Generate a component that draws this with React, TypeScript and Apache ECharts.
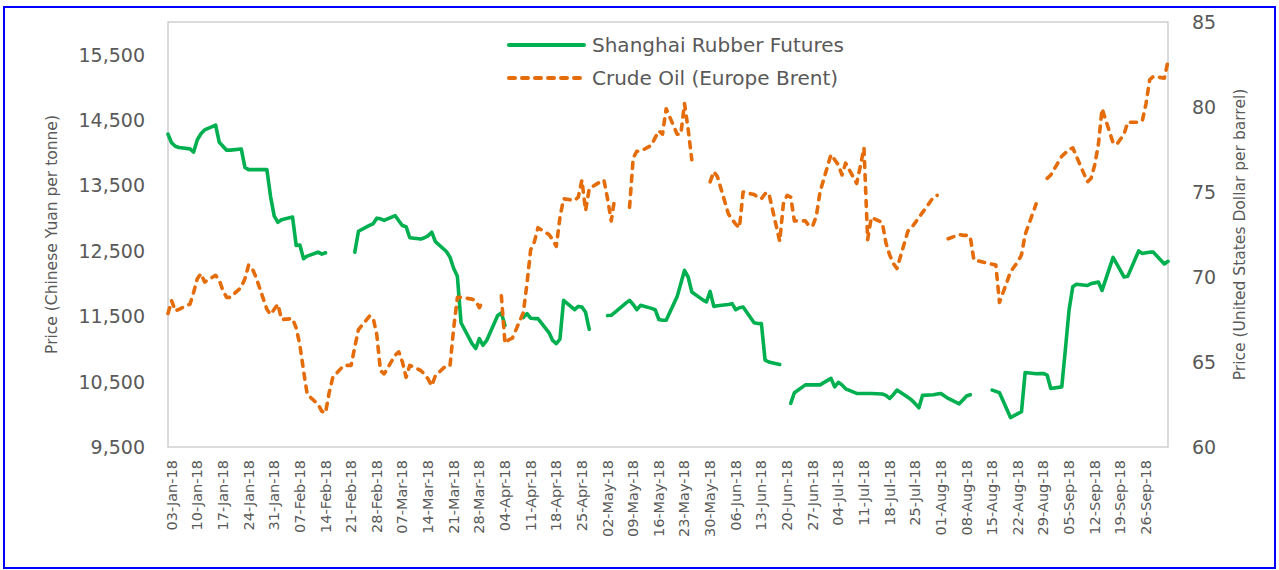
import React, { useEffect, useRef } from 'react';
import * as echarts from 'echarts';

// ---- axis categories: every calendar day of the date axis (02-Jan-18 .. 02-Oct-18)
const MONTHS = ['Jan', 'Feb', 'Mar', 'Apr', 'May', 'Jun', 'Jul', 'Aug', 'Sep', 'Oct', 'Nov', 'Dec'];
const AXIS_START = Date.UTC(2018, 0, 2);
const AXIS_END = Date.UTC(2018, 9, 2);
const DAY_MS = 86400000;

// ---- Shanghai Rubber Futures (CNY / tonne), one value per weekday, null = no quote
const rubberJan = [14286, 14150, 14100, 14080, 14060, 14010, 14200, 14290, 14350, 14424, 14160, 14100, 14040, 14040, 14058, 13777, 13742, 13742, 13742, 13742, 13330, 13030];
const rubberFeb = [12937, 12975, 13018, 12582, 12590, 12380, 12420, 12480, 12450, 12470, null, null, null, null, null, 12480, 12800, 12890, 12913, 13000];
const rubberMar = [12990, 12965, 13040, 12960, 12887, 12870, 12700, 12680, 12700, 12730, 12785, 12640, 12490, 12400, 12230, 12110, 11400, 11080, 11006, 11158, 11056, 11130];
const rubberApr = [11510, 11550, 11360, null, null, 11480, 11540, 11470, 11464, 11464, 11250, 11130, 11082, 11150, 11743, 11600, 11650, 11640, 11560, 11300, null];
const rubberMay = [null, 11510, 11514, 11560, 11700, 11743, 11680, 11600, 11667, 11620, 11600, 11450, 11438, 11438, 11800, 12000, 12200, 12100, 11870, 11750, 11718, 11880, 11650];
const rubberJun = [11660, 11680, 11692, 11600, 11630, 11641, 11400, 11390, 11387, 10830, 10800, 10760, null, null, 10167, 10330, 10450, 10450, 10450, 10450, 10450];
const rubberJul = [10550, 10420, 10490, 10450, 10390, 10319, 10319, 10319, 10319, 10319, 10310, 10290, 10243, 10300, 10370, 10260, 10220, 10160, 10100, 10290, 10300, 10310];
const rubberAug = [10319, 10280, 10243, 10160, 10220, 10280, 10300, null, null, null, 10370, 10350, 10330, 9950, 9980, 10010, 10039, 10640, 10620, 10622, 10624, 10600, 10395];
const rubberSep = [10420, 11000, 11600, 11950, 11990, 11970, 12000, 12010, 12022, 11895, 12400, 12302, 12200, 12100, 12110, 12500, 12460, 12470, 12480, 12480];
const rubberOct = [12300, 12340];

// ---- Crude Oil, Europe Brent (USD / barrel), one value per weekday, null = no quote
const brentJan = [67.85, 68.6, 68.0, 68.1, 68.4, 69.1, 69.9, 70.2, 69.7, 70.1, 69.8, 69.2, 68.8, 68.8, 69.4, 69.9, 70.7, 70.5, 70.0, 68.1, 67.8, 68.1];
const brentFeb = [68.4, 67.5, 67.55, 67.0, 66.0, 64.5, 63.1, 62.5, 62.1, 62.0, 63.2, 64.1, 64.8, 64.8, 64.8, 65.9, 66.9, 67.7, 67.6, 66.6];
const brentMar = [64.5, 64.3, 65.4, 65.6, 65.0, 64.1, 64.8, 64.5, 64.3, 64.0, 63.6, 64.2, 64.8, 64.8, 67.0, 68.8, 68.8, 68.7, 68.6, 68.2, 68.6, null];
const brentApr = [null, 68.9, 66.1, 66.3, 66.4, 67.9, 69.6, 71.6, 72.05, 72.9, 72.5, 72.2, 71.8, 73.5, 74.6, 74.5, 74.7, 75.7, 73.9, 75.2, 75.6];
const brentMay = [75.7, 74.6, 73.3, 74.7, null, 74.1, 77.0, 77.4, 77.4, 77.75, 78.2, 78.6, 78.4, 79.9, 78.4, 78.4, 80.2, 78.7, 76.9, null, null, 75.6, 76.2];
const brentJun = [75.9, 73.7, 73.4, 73.1, 72.9, 75.0, 74.85, 74.7, 74.6, 74.9, 74.95, 72.1, 74.3, 74.8, 74.7, 73.3, 73.3, 73.0, 73.0, 73.6, 75.0];
const brentJul = [77.2, 76.9, 76.6, 76.0, 76.7, 75.5, 76.5, 77.6, 72.2, 73.5, 73.2, 72.0, 71.3, 70.8, 70.5, 72.7, 72.9, 73.2, 73.5, 73.8, 74.7, 74.8];
const brentAug = [null, null, 72.25, 72.5, 72.45, 72.45, 72.4, 71.0, 70.85, 70.8, 70.75, 70.7, 68.5, 70.3, 70.6, 70.9, 71.3, 72.5, 74.3, null, null, 75.8, 76.0];
const brentSep = [77.1, 77.3, 77.5, 77.6, 77.1, 75.6, 75.8, 76.6, 77.8, 79.9, 77.9, 77.8, 78.1, 78.4, 79.1, 79.1, 79.2, 80.2, 81.6, 81.8];
const brentOct = [81.7, 82.7];

// ---- axis settings (values)
const rubberAxis = { min: 9500, max: 16000, interval: 1000 };
const brentAxis = { min: 60, max: 85, interval: 5 };

const SERIES_RUBBER = 'Shanghai Rubber Futures';
const SERIES_BRENT = 'Crude Oil (Europe Brent)';

const pad2 = (n: number) => (n < 10 ? '0' + n : String(n));

function buildCalendar() {
  const labels: string[] = [];
  const weekdayIdx: number[] = [];
  let i = 0;
  for (let t = AXIS_START; t <= AXIS_END; t += DAY_MS, i++) {
    const d = new Date(t);
    labels.push(`${pad2(d.getUTCDate())}-${MONTHS[d.getUTCMonth()]}-18`);
    const dow = d.getUTCDay();
    if (dow !== 0 && dow !== 6) weekdayIdx.push(i);
  }
  return { labels, weekdayIdx };
}

const FONT = '"DejaVu Sans", Verdana, sans-serif';
const TEXT = '#595959';
const GREEN = '#00B050';
const ORANGE = '#E46C0A';

export default function App() {
  const ref = useRef<HTMLDivElement>(null);

  useEffect(() => {
    if (!ref.current) return;
    const chart = echarts.init(ref.current, undefined, { renderer: 'svg' });
    const { labels, weekdayIdx } = buildCalendar();
    const rubber = [...rubberJan, ...rubberFeb, ...rubberMar, ...rubberApr, ...rubberMay, ...rubberJun, ...rubberJul, ...rubberAug, ...rubberSep, ...rubberOct];
    const brent = [...brentJan, ...brentFeb, ...brentMar, ...brentApr, ...brentMay, ...brentJun, ...brentJul, ...brentAug, ...brentSep, ...brentOct];
    const toPairs = (vals: (number | null)[]) =>
      weekdayIdx.map((ci, k) => [ci, vals[k] == null ? '-' : vals[k]]);

    chart.setOption({
      animation: false,
      backgroundColor: '#ffffff',
      textStyle: { fontFamily: FONT },
      grid: {
        left: 168, top: 22, width: 1000, height: 425,
        show: true, borderColor: '#d0d0d0', borderWidth: 1.5, backgroundColor: 'transparent',
      },
      legend: {
        orient: 'vertical',
        left: 507, top: 35, padding: 0,
        itemWidth: 75, itemHeight: 23, itemGap: 13,
        itemStyle: { opacity: 0, borderWidth: 0 },
        lineStyle: { width: 4 },
        textStyle: { fontFamily: FONT, fontSize: 20, color: TEXT, padding: [0, 0, 0, 3] },
        data: [SERIES_RUBBER, SERIES_BRENT],
      },
      xAxis: {
        type: 'category',
        data: labels,
        boundaryGap: false,
        axisLine: { show: false },
        axisTick: { show: false },
        splitLine: { show: false },
        axisLabel: {
          rotate: 90,
          interval: (index: number) => (index - 1) % 7 === 0,
          fontFamily: FONT, fontSize: 14.5, color: TEXT, margin: 13,
        },
      },
      yAxis: [
        {
          type: 'value', position: 'left',
          min: rubberAxis.min, max: rubberAxis.max, interval: rubberAxis.interval,
          axisLine: { show: false }, axisTick: { show: false }, splitLine: { show: false },
          axisLabel: {
            showMaxLabel: false,
            fontFamily: FONT, fontSize: 19, color: TEXT, margin: 23,
            formatter: (v: number) => v.toLocaleString('en-US'),
          },
          name: 'Price (Chinese Yuan per tonne)',
          nameLocation: 'middle', nameRotate: 90, nameGap: 108,
          nameTextStyle: { fontFamily: FONT, fontSize: 15.5, color: TEXT },
        },
        {
          type: 'value', position: 'right',
          min: brentAxis.min, max: brentAxis.max, interval: brentAxis.interval,
          axisLine: { show: false }, axisTick: { show: false }, splitLine: { show: false },
          axisLabel: { fontFamily: FONT, fontSize: 19, color: TEXT, margin: 24 },
          name: 'Price (United States Dollar per barrel)',
          nameLocation: 'middle', nameRotate: 90, nameGap: 64,
          nameTextStyle: { fontFamily: FONT, fontSize: 15.5, color: TEXT },
        },
      ],
      series: [
        {
          name: SERIES_RUBBER, type: 'line', yAxisIndex: 0,
          data: toPairs(rubber), symbol: 'none', connectNulls: false,
          lineStyle: { color: GREEN, width: 3.6, join: 'round', cap: 'round' },
          itemStyle: { color: GREEN },
        },
        {
          name: SERIES_BRENT, type: 'line', yAxisIndex: 1,
          data: toPairs(brent), symbol: 'none', connectNulls: false,
          lineStyle: { color: ORANGE, width: 3.6, type: [6, 7], cap: 'round', join: 'round' },
          itemStyle: { color: ORANGE },
        },
      ],
      graphic: [
        {
          type: 'rect', silent: true,
          shape: { x: 4, y: 7, width: 1271, height: 561 },
          style: { fill: 'none', stroke: '#0000ff', lineWidth: 2 },
        },
      ],
    });
    return () => chart.dispose();
  }, []);

  return (
    <div
      ref={ref}
      style={{ position: 'absolute', left: 0, top: 0, width: 1279, height: 570 }}
    />
  );
}
